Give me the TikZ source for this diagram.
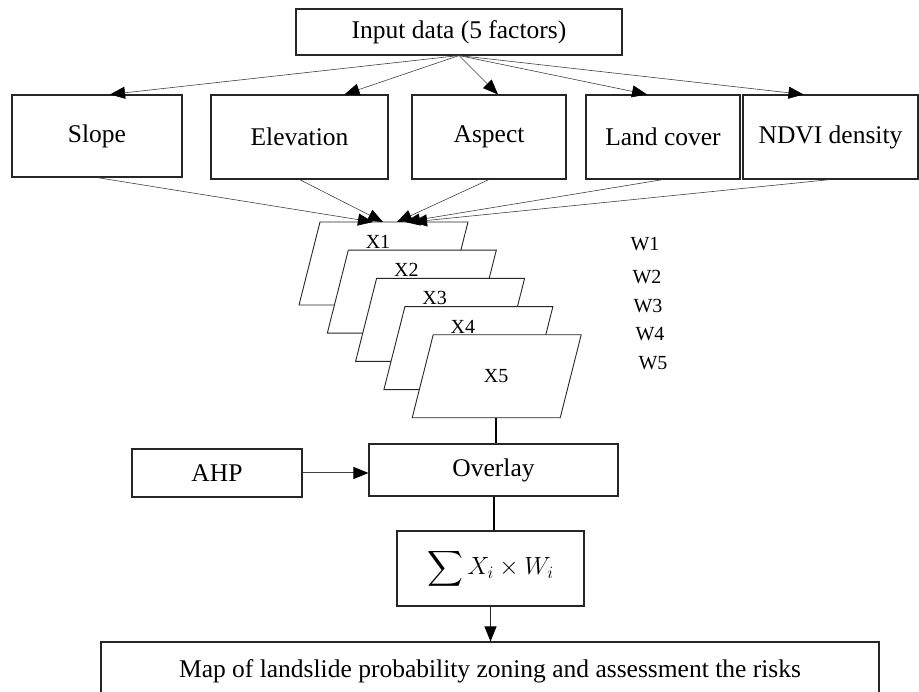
\documentclass[tikz,border=0pt]{standalone}
\usepackage{fontspec}
\usepackage{amsmath}
\setmainfont{Liberation Serif}
\usetikzlibrary{positioning,arrows.meta}

\begin{document}
\begin{tikzpicture}[x=1pt, y=-1pt,
	box/.style={draw=black!85, line width=1.1pt, rectangle, inner sep=0pt, font=\fontsize{25.5}{30}\selectfont},
	layer/.style={draw=black!85, line width=0.9pt, fill=white},
	small/.style={font=\fontsize{20}{24}\selectfont, inner sep=0pt},
	thin/.style={draw=black!75, line width=0.6pt},
	tip/.style={-{Triangle[length=15pt,width=12pt,color=black]}}]
	
	\useasboundingbox (0,0) rectangle (919,692);
	
	% Input box
	\node[box, minimum width=326pt, minimum height=46pt] (input) at (459,32) {Input data (5 factors)};
	
	% Factor boxes
	\node[box, minimum width=170pt, minimum height=82pt] (slope) at (97,136) {Slope};
	\node[box, minimum width=177pt, minimum height=84pt] (elev) at (299.5,137) {Elevation};
	\node[box, minimum width=154pt, minimum height=84pt] (aspect) at (489,137) {Aspect};
	\node[box, minimum width=154pt, minimum height=84pt] (land) at (663,137) {Land cover};
	\node[box, minimum width=175pt, minimum height=84pt] (ndvi) at (830.5,137) {NDVI density};
	
	% Layers X1..X5 (parallelograms)
	\foreach \i in {1,...,5} {
		\coordinate (x\i) at ({383+28.3*(\i-1)},{263.5+28.2*(\i-1)});
		\draw[layer] ([shift={(-63,-41.5)}]x\i) -- ++(148,0) -- ++(-21,83) -- ++(-148,0) -- cycle;
	}
	\coordinate (x1top) at ([yshift=41.5pt]x1);
	\coordinate (x5bot) at ([shift={(0,41.5)}]x5);
	\foreach \i in {1,...,4}
		\node[small] (t\i) at ([shift={(-5,-21.5)}]x\i) {X\i};
	\node[small] (t5) at (x5) {X5};
	
	% Weights
	\foreach \i/\x/\y in {1/645/244, 2/647/277, 3/648/306, 4/650/334, 5/653/363}
		\node[small] (w\i) at (\x,\y) {W\i};
	
	% Lower boxes
	\node[box, minimum width=170pt, minimum height=48pt] (ahp) at (217,473) {AHP};
	\node[box, minimum width=249pt, minimum height=52pt] (overlay) at (493.5,470) {Overlay};
	\node[box, minimum width=187pt, minimum height=75pt, font=\fontsize{26}{32}\selectfont] (sum) at (490.5,568.5) {$\displaystyle\sum X_i\times W_i$};
	\node[box, minimum width=778pt, minimum height=58pt] (map) at (490,671) {Map of landslide probability zoning and assessment the risks};
	
	% Edges
	\draw[thin, tip] (input.south) -- ([xshift=13pt]slope.north);
	\draw[thin, tip] (input.south) -- ([xshift=45pt]elev.north);
	\draw[thin, tip] (input.south) -- ([xshift=9pt]aspect.north);
	\draw[thin, tip] (input.south) -- ([xshift=-16pt]land.north);
	\draw[thin, tip] (input.south) -- ([xshift=-27pt]ndvi.north);
	
	\draw[thin, tip] (slope.south) -- ([xshift=-10pt]x1top);
	\draw[thin, tip] (elev.south) -- ([xshift=0pt]x1top);
	\draw[thin, tip] (aspect.south) -- ([xshift=14pt]x1top);
	\draw[thin, tip] (land.south) -- ([xshift=22pt]x1top);
	\draw[thin, tip] (ndvi.south) -- ([xshift=29pt]x1top);
	
	\draw[line width=2pt] (x5bot) -- (x5bot |- overlay.north);
	\draw[draw=black!75, line width=1pt, tip] (ahp.east) -- (ahp.east -| overlay.west);
	\draw[line width=2pt] (overlay.south) -- (overlay.south |- sum.north);
	\draw[draw=black!85, line width=1pt, tip] (sum.south) -- (sum.south |- map.north);
	
\end{tikzpicture}
\end{document}
